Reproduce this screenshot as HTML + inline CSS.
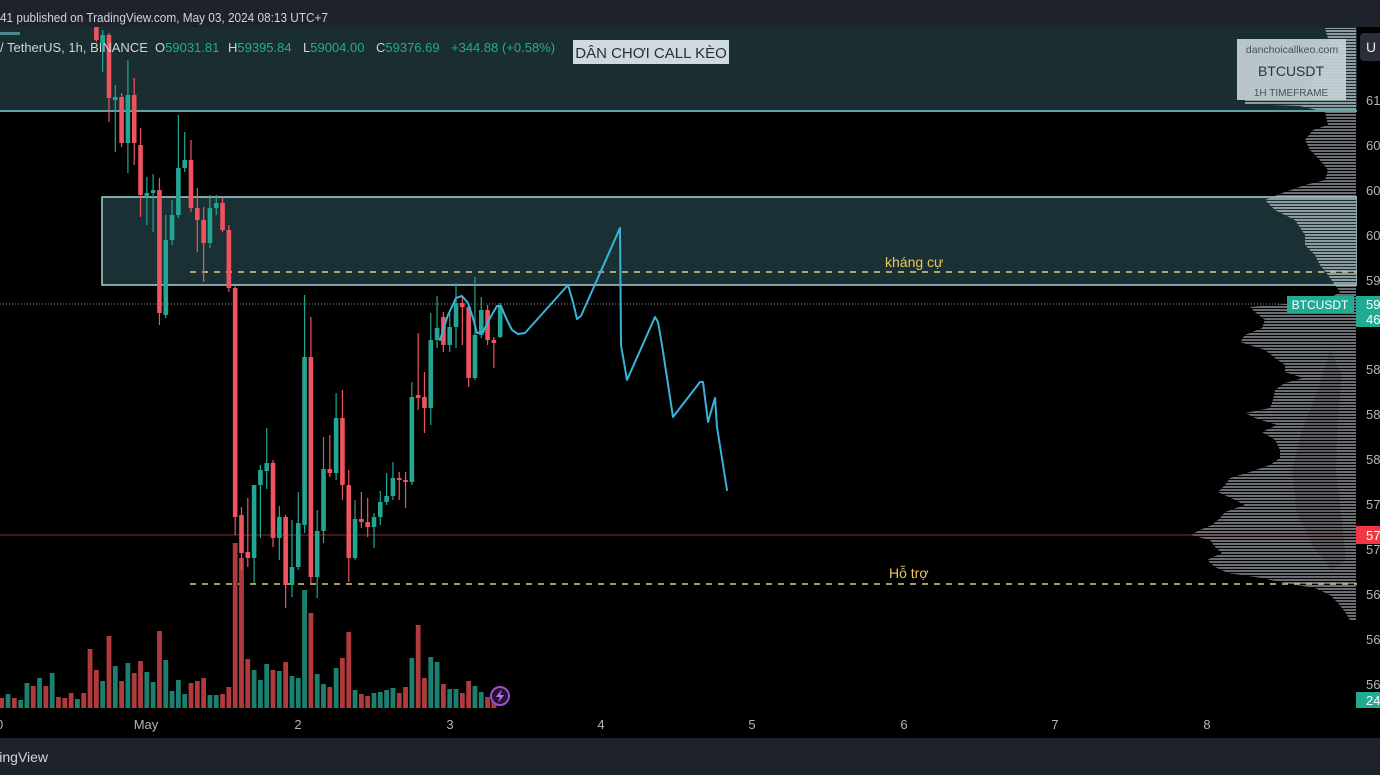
<!DOCTYPE html>
<html><head><meta charset="utf-8"><style>
html,body{margin:0;padding:0;background:#000;overflow:hidden;}
svg{display:block;}
text{font-family:"Liberation Sans",Arial,"Noto Sans CJK SC",sans-serif;}
</style></head><body>
<svg width="1380" height="775" viewBox="0 0 1380 775" xmlns="http://www.w3.org/2000/svg">
<defs>
<pattern id="st" width="4" height="3" patternUnits="userSpaceOnUse"><rect width="4" height="2" fill="#6a6d73"/></pattern>
<pattern id="stl" width="4" height="3" patternUnits="userSpaceOnUse"><rect width="4" height="2" fill="#8d9b9e"/></pattern>
<clipPath id="boxclip"><rect x="0" y="27" width="1357" height="84"/><rect x="102" y="197" width="1255" height="88"/></clipPath>
<clipPath id="chartclip"><rect x="0" y="27" width="1357" height="682"/></clipPath>
</defs>
<rect width="1380" height="775" fill="#000"/>
<!-- header -->
<rect x="0" y="0" width="1380" height="27" fill="#1e222b"/>
<text x="0" y="22" font-size="13" fill="#d1d4dc" textLength="328" lengthAdjust="spacingAndGlyphs">41 published on TradingView.com, May 03, 2024 08:13 UTC+7</text>
<!-- top zone -->
<rect x="0" y="27" width="1357" height="84" fill="#1a2d30"/>
<rect x="0" y="32" width="20" height="3" fill="#4a8a8f"/>
<!-- box 2 fill -->
<rect x="102" y="197" width="1255" height="88" fill="#1b3034"/>
<!-- volume profile -->
<g id="vp">
<polygon fill="url(#st)" points="1356,28 1325,28 1330,45 1320,60 1315,75 1310,90 1310,98 1245,100 1245,104 1300,106 1325,112 1328,125 1313,130 1305,140 1310,150 1318,158 1328,170 1325,180 1305,185 1285,192 1265,200 1275,210 1295,220 1305,235 1305,245 1315,255 1320,265 1328,275 1335,285 1340,292 1330,298 1310,302 1250,307 1255,312 1265,320 1262,328 1245,335 1240,342 1265,350 1275,358 1285,365 1285,372 1303,378 1285,383 1275,390 1273,400 1270,408 1245,413 1255,418 1277,425 1262,432 1275,440 1280,450 1280,458 1270,465 1250,472 1230,478 1225,485 1218,492 1235,500 1245,505 1225,512 1220,518 1212,525 1200,530 1190,535 1210,540 1215,547 1222,553 1207,560 1215,567 1228,573 1262,578 1285,583 1315,588 1330,595 1338,603 1345,612 1350,620 1356,620"/>
<polygon fill="url(#stl)" clip-path="url(#boxclip)" points="1356,28 1325,28 1330,45 1320,60 1315,75 1310,90 1310,98 1245,100 1245,104 1300,106 1325,112 1328,125 1313,130 1305,140 1310,150 1318,158 1328,170 1325,180 1305,185 1285,192 1265,200 1275,210 1295,220 1305,235 1305,245 1315,255 1320,265 1328,275 1335,285 1340,292 1356,292"/>
<polygon fill="#000" opacity="0.15" points="1330,350 1318,390 1302,430 1292,470 1296,510 1312,545 1332,570 1346,560 1342,520 1336,470 1338,420 1342,375"/>
</g>
<!-- box borders -->
<line x1="0" y1="111" x2="1357" y2="111" stroke="#5fa2a6" stroke-width="2"/>
<rect x="102" y="197" width="1255" height="88" fill="none" stroke="#a6d4d4" stroke-width="1.5"/>
<!-- horizontal lines -->
<line x1="190" y1="272" x2="1357" y2="272" stroke="#d6cf86" stroke-width="1.5" stroke-dasharray="6 6"/>
<line x1="190" y1="584" x2="1357" y2="584" stroke="#d6cf86" stroke-width="1.5" stroke-dasharray="6 6"/>
<line x1="0" y1="535" x2="1357" y2="535" stroke="#8a2c30" stroke-width="1"/>
<line x1="0" y1="304" x2="1287" y2="304" stroke="#8c8f96" stroke-width="1" stroke-dasharray="1 2"/>
<text x="885" y="267" font-size="14" fill="#e8cb55">kháng cự</text>
<text x="889" y="578" font-size="14" fill="#e8cb55">Hỗ trợ</text>
<!-- volume bars -->
<g clip-path="url(#chartclip)">
<path fill="#b03a3c" d="M-0.7 698h4.8v10h-4.8zM11.92 698h4.8v10h-4.8zM30.85 686h4.8v22h-4.8zM43.47 686h4.8v22h-4.8zM56.09 697h4.8v11h-4.8zM62.4 698h4.8v10h-4.8zM68.71 693h4.8v15h-4.8zM81.33 693h4.8v15h-4.8zM87.64 649h4.8v59h-4.8zM93.95 670h4.8v38h-4.8zM106.57 636h4.8v72h-4.8zM119.19 681h4.8v27h-4.8zM131.81 673h4.8v35h-4.8zM138.12 661h4.8v47h-4.8zM157.05 631h4.8v77h-4.8zM188.6 683h4.8v25h-4.8zM194.91 681h4.8v27h-4.8zM201.22 678h4.8v30h-4.8zM220.15 694h4.8v14h-4.8zM226.46 687h4.8v21h-4.8zM232.77 543h4.8v165h-4.8zM239.08 558h4.8v150h-4.8zM245.39 659h4.8v49h-4.8zM270.63 670h4.8v38h-4.8zM283.25 662h4.8v46h-4.8zM308.49 613h4.8v95h-4.8zM327.42 687h4.8v21h-4.8zM340.04 658h4.8v50h-4.8zM346.35 632h4.8v76h-4.8zM358.97 694h4.8v14h-4.8zM365.28 696h4.8v12h-4.8zM396.83 693h4.8v15h-4.8zM403.14 687h4.8v21h-4.8zM415.76 625h4.8v83h-4.8zM422.07 678h4.8v30h-4.8zM441 684h4.8v24h-4.8zM459.93 693h4.8v15h-4.8zM466.24 681h4.8v27h-4.8zM485.17 697h4.8v11h-4.8zM491.48 701h4.8v7h-4.8z"/>
<path fill="#1c8070" d="M5.61 694h4.8v14h-4.8zM18.23 700h4.8v8h-4.8zM24.54 683h4.8v25h-4.8zM37.16 678h4.8v30h-4.8zM49.78 673h4.8v35h-4.8zM75.02 699h4.8v9h-4.8zM100.26 681h4.8v27h-4.8zM112.88 666h4.8v42h-4.8zM125.5 663h4.8v45h-4.8zM144.43 672h4.8v36h-4.8zM150.74 682h4.8v26h-4.8zM163.36 660h4.8v48h-4.8zM169.67 691h4.8v17h-4.8zM175.98 680h4.8v28h-4.8zM182.29 694h4.8v14h-4.8zM207.53 695h4.8v13h-4.8zM213.84 695h4.8v13h-4.8zM251.7 670h4.8v38h-4.8zM258.01 680h4.8v28h-4.8zM264.32 664h4.8v44h-4.8zM276.94 671h4.8v37h-4.8zM289.56 676h4.8v32h-4.8zM295.87 678h4.8v30h-4.8zM302.18 590h4.8v118h-4.8zM314.8 674h4.8v34h-4.8zM321.11 684h4.8v24h-4.8zM333.73 668h4.8v40h-4.8zM352.66 690h4.8v18h-4.8zM371.59 693h4.8v15h-4.8zM377.9 692h4.8v16h-4.8zM384.21 690h4.8v18h-4.8zM390.52 688h4.8v20h-4.8zM409.45 658h4.8v50h-4.8zM428.38 657h4.8v51h-4.8zM434.69 662h4.8v46h-4.8zM447.31 689h4.8v19h-4.8zM453.62 689h4.8v19h-4.8zM472.55 686h4.8v22h-4.8zM478.86 692h4.8v16h-4.8z"/>
<!-- candles -->
<path stroke="#f05360" stroke-width="1.2" fill="none" d="M96.35 15V42M108.97 33V122M121.59 93V147M134.21 78V165M140.52 128V217M159.45 178V325M191 140V212M197.31 188V252M203.62 207V282M222.55 198V232M228.86 225V292M235.17 285V535M241.48 507V570M247.79 498V567M273.03 460V547M285.65 515V608M310.89 317V583M329.82 435V477M342.44 390V500M348.75 470V582M361.37 492V528M367.68 498V537M399.23 472V500M405.54 472V508M418.16 333V410M424.47 372V433M443.4 312V352M462.33 297V345M468.64 303V387M487.57 305V345M493.88 337V368"/>
<path stroke="#22a592" stroke-width="1.2" fill="none" d="M102.66 30V72M115.28 85V152M127.9 60V173M146.83 177V225M153.14 174V232M165.76 215V318M172.07 200V245M178.38 115V218M184.69 132V172M209.93 195V248M216.24 195V215M254.1 485V583M260.41 465V538M266.72 428V489M279.34 506V560M291.96 520V597M298.27 492V570M304.58 295V533M317.2 510V598M323.51 437V543M336.13 393V480M355.06 500V560M373.99 513V548M380.3 491V525M386.61 473V505M392.92 462V500M411.85 382V485M430.78 313V425M437.09 296V348M449.71 313V352M456.02 283V348M474.95 277V380M481.26 297V338M500.19 303V338"/>
<path fill="#f05360" d="M94.05 20h4.6v20h-4.6zM106.67 35h4.6v63h-4.6zM119.29 97h4.6v46h-4.6zM131.91 95h4.6v48h-4.6zM138.22 145h4.6v50h-4.6zM157.15 190h4.6v123h-4.6zM188.7 160h4.6v48h-4.6zM195.01 208h4.6v12h-4.6zM201.32 220h4.6v23h-4.6zM220.25 203h4.6v27h-4.6zM226.56 230h4.6v58h-4.6zM232.87 288h4.6v229h-4.6zM239.18 515h4.6v38h-4.6zM245.49 552h4.6v6h-4.6zM270.73 463h4.6v75h-4.6zM283.35 517h4.6v68h-4.6zM308.59 357h4.6v220h-4.6zM327.52 469h4.6v4h-4.6zM340.14 418h4.6v67h-4.6zM346.45 485h4.6v73h-4.6zM359.07 519h4.6v3h-4.6zM365.38 522h4.6v5h-4.6zM396.93 478h4.6v2h-4.6zM403.24 480h4.6v2h-4.6zM415.86 395h4.6v3h-4.6zM422.17 397h4.6v11h-4.6zM441.1 317h4.6v28h-4.6zM460.03 303h4.6v4h-4.6zM466.34 307h4.6v71h-4.6zM485.27 310h4.6v30h-4.6zM491.58 340h4.6v3h-4.6z"/>
<path fill="#22a592" d="M100.36 35h4.6v8h-4.6zM112.98 97h4.6v3h-4.6zM125.6 95h4.6v48h-4.6zM144.53 193h4.6v4h-4.6zM150.84 190h4.6v3h-4.6zM163.46 240h4.6v75h-4.6zM169.77 215h4.6v25h-4.6zM176.08 168h4.6v47h-4.6zM182.39 160h4.6v8h-4.6zM207.63 208h4.6v35h-4.6zM213.94 203h4.6v5h-4.6zM251.8 485h4.6v73h-4.6zM258.11 470h4.6v15h-4.6zM264.42 463h4.6v8h-4.6zM277.04 517h4.6v21h-4.6zM289.66 567h4.6v18h-4.6zM295.97 523h4.6v44h-4.6zM302.28 357h4.6v168h-4.6zM314.9 531h4.6v46h-4.6zM321.21 469h4.6v62h-4.6zM333.83 418h4.6v55h-4.6zM352.76 519h4.6v39h-4.6zM371.69 517h4.6v10h-4.6zM378 502h4.6v15h-4.6zM384.31 496h4.6v6h-4.6zM390.62 478h4.6v18h-4.6zM409.55 397h4.6v85h-4.6zM428.48 340h4.6v68h-4.6zM434.79 328h4.6v12h-4.6zM447.41 327h4.6v18h-4.6zM453.72 303h4.6v24h-4.6zM472.65 335h4.6v43h-4.6zM478.96 310h4.6v25h-4.6zM497.89 307h4.6v30h-4.6z"/>
</g>
<!-- drawn projection path -->
<polyline fill="none" stroke="#38b4da" stroke-width="2" stroke-linejoin="round" stroke-linecap="round" points="440,340 448,315 456,298 462,296 468,303 473,318 477,333 483,332 490,318 497,306 501,306 506,318 512,330 518,334 525,333 568,285 573,302 577,319 581,316 620,228 621,345 627,380 655,317 658,322 662,345 673,417 700,382 703,382 708,422 715,398 717,427 727,490"/>
<!-- lightning icon -->
<circle cx="500" cy="696" r="9" fill="#24122e" stroke="#9d4fd0" stroke-width="2"/>
<path d="M502 689 L496 697 L500 697 L498 703 L504 695 L500 695 Z" fill="#c070f0"/>
<!-- legend -->
<text y="52" font-size="13">
<tspan x="0" fill="#d1d4dc">/ TetherUS, 1h, BINANCE</tspan>
<tspan x="155" fill="#d1d4dc">O</tspan><tspan fill="#22ab94">59031.81</tspan>
<tspan x="228" fill="#d1d4dc">H</tspan><tspan fill="#22ab94">59395.84</tspan>
<tspan x="303" fill="#d1d4dc">L</tspan><tspan fill="#22ab94">59004.00</tspan>
<tspan x="376" fill="#d1d4dc">C</tspan><tspan fill="#22ab94">59376.69</tspan>
<tspan x="451" fill="#22ab94">+344.88 (+0.58%)</tspan>
</text>
<rect x="573" y="40" width="156" height="24" fill="#cfdadf"/>
<text x="651" y="58" font-size="15" fill="#2a2e39" text-anchor="middle">DÂN CHƠI CALL KÈO</text>
<!-- watermark box -->
<rect x="1237" y="39" width="109" height="61" fill="#c6d3d8" opacity="0.92"/>
<text x="1292" y="53" font-size="10.5" fill="#4a5058" text-anchor="middle">danchoicallkeo.com</text>
<text x="1291" y="76" font-size="14" fill="#2f3338" text-anchor="middle">BTCUSDT</text>
<text x="1291" y="96" font-size="10" fill="#4a5058" text-anchor="middle">1H TIMEFRAME</text>
<!-- price axis -->
<rect x="1357" y="27" width="23" height="682" fill="#000"/>
<rect x="1360" y="33" width="28" height="28" rx="4" fill="#2a2e39"/>
<text x="1366" y="52" font-size="14" fill="#e8e8ec">U</text>
<g font-size="13" fill="#b2b5be">
<text x="1366" y="105">61,200.00</text>
<text x="1366" y="150">60,800.00</text>
<text x="1366" y="195">60,400.00</text>
<text x="1366" y="240">60,000.00</text>
<text x="1366" y="285">59,600.00</text>
<text x="1366" y="374">58,800.00</text>
<text x="1366" y="419">58,400.00</text>
<text x="1366" y="464">58,000.00</text>
<text x="1366" y="509">57,600.00</text>
<text x="1366" y="554">57,200.00</text>
<text x="1366" y="599">56,800.00</text>
<text x="1366" y="644">56,400.00</text>
<text x="1366" y="689">56,000.00</text>
</g>
<rect x="1287" y="296" width="67" height="17" fill="#22ab94"/>
<text x="1320" y="309" font-size="12" fill="#fff" text-anchor="middle">BTCUSDT</text>
<rect x="1356" y="296" width="24" height="31" fill="#22ab94"/>
<text x="1366" y="309" font-size="13" fill="#fff">59,376.69</text>
<text x="1366" y="324" font-size="13" fill="#fff">46:52</text>
<rect x="1356" y="526" width="24" height="18" fill="#f23645"/>
<text x="1366" y="540" font-size="13" fill="#fff">57,320.00</text>
<rect x="1356" y="692" width="24" height="16" fill="#22ab94"/>
<text x="1366" y="705" font-size="13" fill="#fff">24.1</text>
<!-- time axis -->
<rect x="0" y="709" width="1380" height="29" fill="#000"/>
<g font-size="13" fill="#b2b5be" text-anchor="middle">
<text x="-4" y="729">30</text>
<text x="146" y="729">May</text>
<text x="298" y="729">2</text>
<text x="450" y="729">3</text>
<text x="601" y="729">4</text>
<text x="752" y="729">5</text>
<text x="904" y="729">6</text>
<text x="1055" y="729">7</text>
<text x="1207" y="729">8</text>
</g>
<!-- bottom bar -->
<rect x="0" y="738" width="1380" height="37" fill="#1e222b"/>
<text x="-29" y="762" font-size="14" fill="#d1d4dc">TradingView</text>
</svg>
</body></html>
